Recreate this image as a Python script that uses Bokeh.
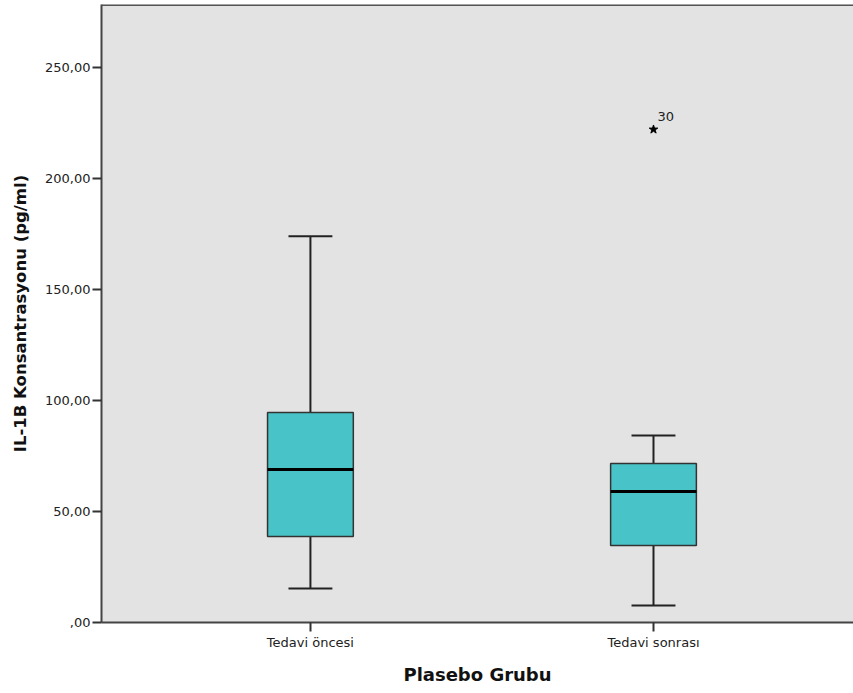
from bokeh.plotting import figure
from bokeh.models import Range1d, Span, FixedTicker, Label
from bokeh.embed import file_html
from bokeh.resources import INLINE

# Data
categories = ["Tedavi öncesi", "Tedavi sonrası"]
lower_whisker = [15.3, 7.7]
q1 = [38.7, 34.7]
median = [68.9, 59.0]
q3 = [94.6, 71.6]
upper_whisker = [174.0, 84.2]
outlier_group = [2]
outlier_value = [222.1]
outlier_label = ["30"]
y_ticks = [0, 50, 100, 150, 200, 250]
y_tick_labels = [",00", "50,00", "100,00", "150,00", "200,00", "250,00"]

xs = [1, 2]
FONT = "DejaVu Sans"
Y_TOP = 278.4

p = figure(width=853, height=693, output_backend="svg", toolbar_location=None,
           x_range=Range1d(0.391, 2.583), y_range=Range1d(0, Y_TOP),
           min_border_left=101, min_border_right=0, min_border_top=4, min_border_bottom=71)
p.background_fill_color = "#E3E3E3"
p.border_fill_color = "white"
p.outline_line_color = None
p.xgrid.visible = False
p.ygrid.visible = False

# top border
p.add_layout(Span(location=Y_TOP, dimension="width", line_color="#555555", line_width=3))

box_w = 0.25
cap_w = 0.128

# whiskers
p.segment(x0=xs, y0=q3, x1=xs, y1=upper_whisker, line_color="#222222", line_width=2)
p.segment(x0=xs, y0=lower_whisker, x1=xs, y1=q1, line_color="#222222", line_width=2)
p.segment(x0=[x - cap_w / 2 for x in xs], y0=upper_whisker, x1=[x + cap_w / 2 for x in xs], y1=upper_whisker,
          line_color="#222222", line_width=2)
p.segment(x0=[x - cap_w / 2 for x in xs], y0=lower_whisker, x1=[x + cap_w / 2 for x in xs], y1=lower_whisker,
          line_color="#222222", line_width=2)

# boxes
p.vbar(x=xs, width=box_w, bottom=q1, top=q3, fill_color="#48C4C8", line_color="#333333", line_width=1.5)
# medians
p.segment(x0=[x - box_w / 2 for x in xs], y0=median, x1=[x + box_w / 2 for x in xs], y1=median,
          line_color="black", line_width=3)

# outlier
p.scatter(x=outlier_group, y=outlier_value, marker="star", size=9, fill_color="black", line_color="black")
for g, v, t in zip(outlier_group, outlier_value, outlier_label):
    p.add_layout(Label(x=g, y=v, text=t, x_offset=4, y_offset=8, text_font=FONT, text_font_size="13px",
                       text_color="#222222"))

# axes
p.yaxis.ticker = FixedTicker(ticks=y_ticks)
p.yaxis.major_label_overrides = {t: l for t, l in zip(y_ticks, y_tick_labels)}
p.xaxis.ticker = FixedTicker(ticks=xs)
p.xaxis.major_label_overrides = {x: c for x, c in zip(xs, categories)}

for ax in (p.xaxis, p.yaxis):
    ax.axis_line_color = "#444444"
    ax.axis_line_width = 2
    ax.major_tick_line_color = "#333333"
    ax.major_tick_line_width = 2
    ax.major_tick_in = 0
    ax.major_tick_out = 9
    ax.minor_tick_line_color = None
    ax.major_label_text_font = FONT
    ax.major_label_text_font_size = "13px"
    ax.major_label_text_color = "#222222"
    ax.axis_label_text_font = FONT
    ax.axis_label_text_font_style = "bold"
    ax.axis_label_text_color = "#111111"

p.yaxis.axis_label_text_font_size = "16.5px"
p.xaxis.axis_label_text_font_size = "18px"
p.yaxis.axis_label = "IL-1B Konsantrasyonu (pg/ml)"
p.xaxis.axis_label = "Plasebo Grubu"
p.yaxis.major_label_standoff = 2
p.xaxis.major_label_standoff = 3
p.yaxis.axis_label_standoff = 12
p.xaxis.axis_label_standoff = 11

open("out.html", "w").write(file_html(p, INLINE))
